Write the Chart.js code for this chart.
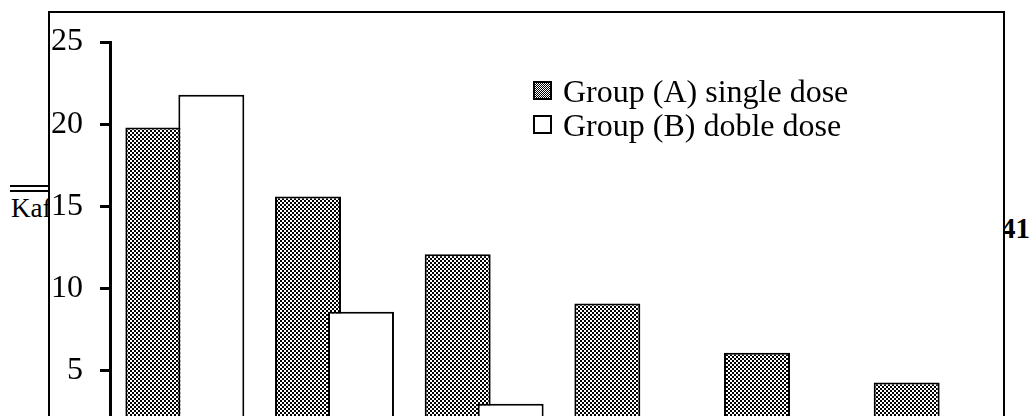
<!DOCTYPE html>
<html>
<head>
<meta charset="utf-8">
<script src="https://cdn.jsdelivr.net/npm/chart.js@4/dist/chart.umd.min.js"></script>
<style>
  html, body { margin: 0; padding: 0; width: 1032px; height: 416px; overflow: hidden; background: #fff; }
  .pg { position: absolute; font-family: "Liberation Serif", "Times New Roman", serif; color: #000; line-height: 1; white-space: nowrap; }
  #kaf { left: 11px; top: 195px; font-size: 27px; z-index: 0; }
  #pnum { left: 1001px; top: 214px; font-size: 29px; font-weight: bold; z-index: 0; }
  .dbl { position: absolute; left: 10px; width: 40px; height: 2px; background: #000; z-index: 0; }
  #box { position: absolute; left: 48px; top: 11px; width: 957px; height: 520px; box-sizing: border-box;
         border: 2px solid #000; background: #fff; z-index: 1; }
  #wrap { position: absolute; left: 0; top: 0; width: 1032px; height: 416px; z-index: 2; }
  #legend { position: absolute; left: 533px; top: 78px; z-index: 3; font-family: "Liberation Serif", "Times New Roman", serif; font-size: 32px; color: #000; }
  .li { position: relative; height: 33.5px; white-space: nowrap; }
  .sw { position: absolute; left: 0; top: 3px; width: 19px; height: 19px; box-sizing: border-box; border: 2px solid #000; }
  .sw.a { background: repeating-conic-gradient(#000 0 25%, #fff 0 50%) 0 0 / 2px 2px; }
  .sw.b { background: #fff; }
  .lt { position: absolute; left: 30px; top: -3px; line-height: 1; }
</style>
</head>
<body>
<div class="pg" id="kaf">Kaf</div>
<div class="dbl" style="top:185px"></div>
<div class="dbl" style="top:190px"></div>
<div class="pg" id="pnum">41</div>
<div id="box"></div>
<div id="wrap"><canvas id="c" width="1032" height="416"></canvas></div>
<div id="legend"></div>
<script>
// ---- data ----
const categories = ["1", "2", "3", "4", "5", "6"];
const seriesNames = ["Group (A) single dose", "Group (B) doble dose"];
const groupA = [19.8, 15.6, 12.1, 9.1, 6.1, 4.3];
const groupB = [21.8, 8.6, 3.0, 0, 0, 0];
const yTicks = [5, 10, 15, 20, 25];

// ---- pattern for group A ----
const canvas = document.getElementById('c');
const ctx = canvas.getContext('2d');
const pc = document.createElement('canvas');
pc.width = 4; pc.height = 4;
const pctx = pc.getContext('2d');
pctx.fillStyle = '#fff'; pctx.fillRect(0, 0, 4, 4);
pctx.fillStyle = '#000'; pctx.fillRect(0, 0, 2, 2); pctx.fillRect(2, 2, 2, 2);
const checker = ctx.createPattern(pc, 'repeat');

// draw A first, then B on top
const drawOrder = {
  id: 'drawOrder',
  beforeDatasetsDraw(chart) {
    const a = chart.chartArea;
    const c = chart.ctx;
    [0, 1].forEach(i => {
      if (!chart.isDatasetVisible(i)) return;
      c.save();
      c.beginPath();
      c.rect(a.left, a.top, a.right - a.left, a.bottom - a.top);
      c.clip();
      chart.getDatasetMeta(i).controller.draw();
      c.restore();
    });
    return false;
  }
};

new Chart(ctx, {
  type: 'bar',
  data: {
    labels: categories,
    datasets: [
      { label: seriesNames[0], data: groupA, backgroundColor: checker, borderColor: '#000', borderWidth: 2 },
      { label: seriesNames[1], data: groupB, backgroundColor: '#fff', borderColor: '#000', borderWidth: 2 }
    ]
  },
  options: {
    responsive: false,
    animation: false,
    events: [],
    categoryPercentage: 0.708,
    barPercentage: 1.245,
    layout: { padding: { top: 42, right: 24, bottom: 0, left: 0 } },
    plugins: { legend: { display: false }, tooltip: { enabled: false }, title: { display: false } },
    scales: {
      x: { display: false },
      y: {
        min: 2.26,
        max: 25,
        afterBuildTicks(scale) { scale.ticks = yTicks.map(v => ({ value: v })); },
        afterFit(scale) { scale.width = 110; scale.paddingTop = 0; scale.paddingBottom = 0; },
        ticks: {
          color: '#000',
          padding: 17,
          font: { family: '"Liberation Serif", "Times New Roman", serif', size: 32 }
        },
        grid: { drawOnChartArea: false, drawTicks: true, tickLength: 10, tickWidth: 3, tickColor: '#000', color: '#000' },
        border: { display: true, color: '#000', width: 3 }
      }
    }
  },
  plugins: [drawOrder]
});

// ---- HTML legend built from series names ----
const legend = document.getElementById('legend');
seriesNames.forEach((name, i) => {
  const li = document.createElement('div'); li.className = 'li';
  const sw = document.createElement('span'); sw.className = 'sw ' + (i === 0 ? 'a' : 'b');
  const t = document.createElement('span'); t.className = 'lt'; t.textContent = name;
  li.appendChild(sw); li.appendChild(t); legend.appendChild(li);
});
</script>
</body>
</html>
